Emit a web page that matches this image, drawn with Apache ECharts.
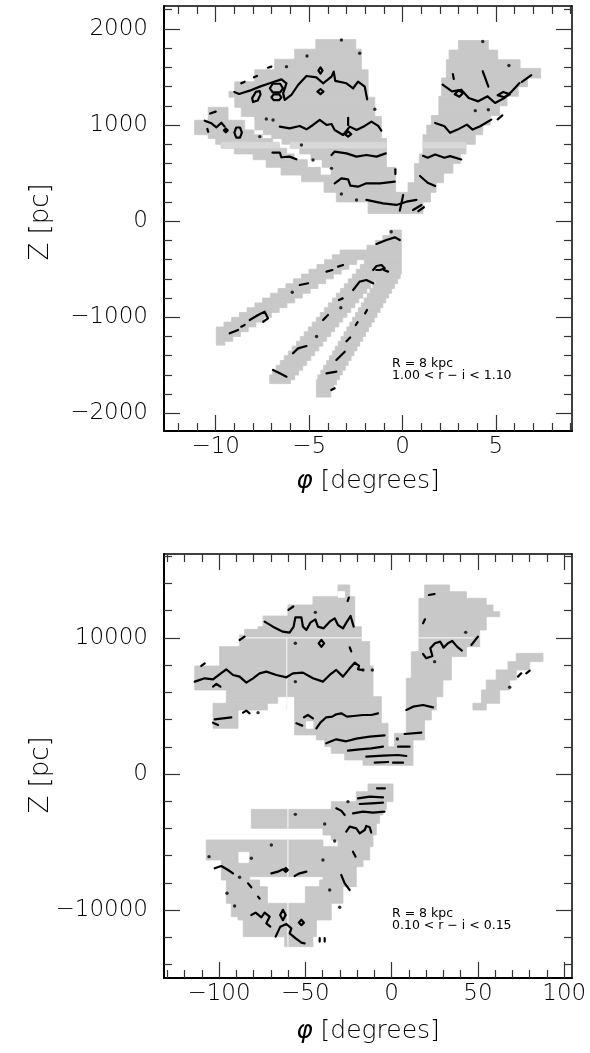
<!DOCTYPE html>
<html>
<head>
<meta charset="utf-8">
<script src="https://cdn.jsdelivr.net/npm/echarts@6/dist/echarts.min.js"></script>
<style>
html,body{margin:0;padding:0;background:#fff;}
#chart{width:590px;height:1053px;}
</style>
</head>
<body>
<div id="chart"></div>
<script>
// ---- axis ranges and ticks ----
const topRangeX = [-12.77, 9.08];
const topRangeZ = [-2183, 2239];
const botRangeX = [-131.9, 104.5];
const botRangeZ = [-14978, 16153];

const topMajorX = [-10, -5, 0, 5];
const topMinorX = [-12, -11, -9, -8, -7, -6, -4, -3, -2, -1, 1, 2, 3, 4, 6, 7, 8, 9];
const topMajorZ = [-2000, -1000, 0, 1000, 2000];
const topMinorZ = [-1800, -1600, -1400, -1200, -800, -600, -400, -200, 200, 400, 600, 800, 1200, 1400, 1600, 1800, 2200];
const botMajorX = [-100, -50, 0, 50, 100];
const botMinorX = [-130, -120, -110, -90, -80, -70, -60, -40, -30, -20, -10, 10, 20, 30, 40, 60, 70, 80, 90];
const botMajorZ = [-10000, 0, 10000];
const botMinorZ = [-14000, -12000, -8000, -6000, -4000, -2000, 2000, 4000, 6000, 8000, 12000, 14000, 16000];

// ---- covered cells: [zLow, zHigh, phiLeft, phiRight] ----
const topCells = [
  // northern fan and central wedge
  [1790, 1890, -4.64, -2.50], [1685, 1790, -5.77, -2.20], [1575, 1685, -6.84, -2.20],
  [1450, 1575, -7.91, -1.84], [1350, 1450, -8.98, -1.84], [1290, 1350, -9.29, -1.84],
  [1185, 1290, -8.98, -1.48], [1090, 1185, -8.63, -1.48], [1050, 1090, -7.91, -1.13],
  [950, 1050, -7.9, -1.13], [900, 950, -7.45, -1.13], [860, 900, -7.0, -1.13],
  [800, 860, -6.45, -0.86], [760, 800, -6.0, -0.86], [700, 760, -5.5, -0.86],
  [640, 700, -4.9, -0.86], [560, 640, -4.3, -0.86], [480, 560, -3.81, -0.36],
  [410, 480, -5.4, -0.36], [300, 410, -4.2, -0.36], [200, 300, -3.54, 1.5],
  [80, 200, -1.84, 1.10],
  // western strip
  [1050, 1185, -10.4, -9.34], [950, 1050, -11.13, -8.45], [900, 950, -11.13, -7.95],
  [860, 900, -10.4, -7.5], [800, 860, -10.0, -6.95], [760, 800, -9.7, -6.6],
  [700, 760, -9.0, -6.2], [640, 700, -8.0, -5.8], [560, 640, -7.3, -5.1],
  [480, 560, -6.5, -4.4],
  // eastern wedge
  [1780, 1880, 3.0, 4.6], [1680, 1780, 2.5, 5.1], [1590, 1680, 2.35, 6.3],
  [1490, 1590, 2.35, 7.4], [1400, 1490, 2.1, 6.7], [1300, 1400, 2.1, 6.2],
  [1200, 1300, 1.95, 5.6], [1100, 1200, 1.95, 5.2], [1000, 1100, 1.55, 4.7],
  [900, 1000, 1.3, 4.3], [800, 900, 1.1, 3.9], [700, 800, 1.1, 3.4],
  [600, 700, 0.9, 3.1], [500, 600, 0.65, 2.7], [400, 500, 0.65, 2.2],
  [300, 400, 0.3, 1.8],
  // southern tip
  [-150, -92, -0.68, -0.06], [-200, -150, -1.05, -0.06], [-250, -200, -1.45, -0.06],
  [-300, -250, -1.90, -0.06], [-350, -300, -3.34, -0.06], [-400, -350, -3.75, -0.06],
  // southern strip 1
  [-450, -400, -4.17, -2.45], [-500, -450, -4.58, -2.87], [-550, -500, -5.00, -3.28],
  [-600, -550, -5.41, -3.70], [-650, -600, -5.83, -4.11], [-700, -650, -6.24, -4.53],
  [-750, -700, -6.66, -4.94], [-800, -750, -7.07, -5.36], [-850, -800, -7.49, -5.77],
  [-900, -850, -7.90, -6.19], [-950, -900, -8.32, -6.60], [-1000, -950, -8.73, -7.02],
  [-1050, -1000, -9.15, -7.43], [-1100, -1050, -9.56, -7.85], [-1150, -1100, -9.97, -8.26],
  [-1200, -1150, -9.97, -8.68], [-1250, -1200, -9.97, -9.09], [-1290, -1250, -9.97, -9.51],
  // southern strip 2
  [-450, -400, -2.04, -0.06], [-500, -450, -2.25, -0.06], [-550, -500, -2.47, -0.06],
  [-600, -550, -2.68, -0.12], [-650, -600, -2.90, -1.48], [-700, -650, -3.11, -1.70],
  [-750, -700, -3.32, -1.91], [-800, -750, -3.54, -2.12], [-850, -800, -3.75, -2.34],
  [-900, -850, -3.97, -2.55], [-950, -900, -4.18, -2.77], [-1000, -950, -4.40, -2.98],
  [-1050, -1000, -4.61, -3.20], [-1100, -1050, -4.83, -3.41], [-1150, -1100, -5.04, -3.63],
  [-1200, -1150, -5.26, -3.84], [-1250, -1200, -5.47, -4.06], [-1300, -1250, -5.68, -4.27],
  [-1350, -1300, -5.90, -4.48], [-1400, -1350, -6.11, -4.70], [-1450, -1400, -6.33, -4.91],
  [-1500, -1450, -6.54, -5.13], [-1550, -1500, -6.76, -5.34], [-1600, -1550, -6.97, -5.56],
  [-1650, -1600, -7.11, -5.77], [-1690, -1650, -7.11, -5.99],
  // southern strip 3
  [-650, -600, -1.43, -0.27], [-700, -650, -1.58, -0.43], [-750, -700, -1.74, -0.58],
  [-800, -750, -1.89, -0.74], [-850, -800, -2.05, -0.89], [-900, -850, -2.20, -1.05],
  [-950, -900, -2.36, -1.20], [-1000, -950, -2.51, -1.36], [-1050, -1000, -2.67, -1.51],
  [-1100, -1050, -2.82, -1.67], [-1150, -1100, -2.98, -1.82], [-1200, -1150, -3.13, -1.98],
  [-1250, -1200, -3.29, -2.13], [-1300, -1250, -3.44, -2.29], [-1350, -1300, -3.60, -2.44],
  [-1400, -1350, -3.75, -2.60], [-1450, -1400, -3.91, -2.75], [-1500, -1450, -4.06, -2.91],
  [-1550, -1500, -4.22, -3.06], [-1600, -1550, -4.37, -3.22], [-1650, -1600, -4.53, -3.37],
  [-1700, -1650, -4.61, -3.53], [-1750, -1700, -4.61, -3.68], [-1830, -1750, -4.61, -3.84]
];
const topLightCells = [
  [762, 822, -9.7, -6.6], [762, 822, -6.0, -0.86], [762, 822, 1.1, 3.4]
];

const botCells = [
  // northern left region
  [13020, 13880, -31.1, -24.3], [12410, 13020, -45.6, -21.4], [11600, 12410, -60.1, -21.4],
  [10820, 11600, -74.5, -21.4], [10620, 10820, -77.4, -17.6], [10200, 10620, -85.2, -17.6],
  [9720, 10200, -88.1, -17.6], [9350, 9720, -88.1, -12.7], [7930, 9350, -99.7, -12.7],
  [6170, 7930, -114.1, -10.8], [5680, 6170, -95.8, -10.8],
  [5190, 5680, -95.8, -66.0], [5190, 5680, -56.2, -6.0],
  [4700, 5190, -103.5, -72.0], [4700, 5190, -56.2, -6.0],
  [3355, 4700, -103.5, -89.0], [3720, 4700, -56.2, -6.0],
  [2870, 3720, -56.2, -2.1], [2500, 2870, -43.6, -2.1], [2010, 2500, -38.8, -2.1],
  [1520, 2010, -35.0, 12.4], [1030, 1520, -27.2, 12.4], [640, 1030, -16.6, 12.4],
  // northern right wedge
  [13390, 13880, 19.1, 33.6], [12900, 13390, 19.1, 43.3], [12410, 12900, 15.8, 54.8],
  [11920, 12410, 15.8, 58.7], [11550, 11920, 15.8, 62.6], [10570, 11550, 15.8, 54.8],
  [9350, 10570, 15.8, 51.0], [8980, 9350, 15.8, 43.3], [8620, 8980, 11.4, 43.3],
  [7030, 8620, 11.4, 34.6], [6900, 7030, 8.5, 34.6], [5680, 6900, 8.5, 29.7],
  [4700, 5680, 8.5, 25.9], [3970, 4700, 8.5, 23.0], [2990, 3970, 8.5, 19.1],
  [2500, 2990, 1.7, 19.1], [2010, 2500, 1.7, 12.4],
  // isolated eastern strip
  [4700, 5190, 47.1, 54.8], [5190, 6170, 52.0, 62.6], [6170, 6900, 54.8, 68.4],
  [6900, 7640, 60.6, 72.2], [7640, 8250, 67.4, 80.0], [8250, 8860, 72.2, 87.7],
  // southern region
  [-1300, -734, -13.7, 0.8], [-2030, -1300, -20.5, 0.8], [-2594, -2030, -35.0, -3.1],
  [-3010, -2594, -81.3, -5.0], [-3622, -3010, -81.3, -7.0], [-3989, -3622, -81.3, -8.9],
  [-4478, -3989, -39.8, -8.9], [-4845, -4478, -35.0, -10.8],
  [-5335, -4845, -107.4, -39.8], [-5335, -4845, -31.1, -10.8],
  [-5702, -5335, -107.4, -12.7],
  [-6313, -5702, -107.4, -89.0], [-6313, -5702, -82.3, -12.7],
  [-6558, -6313, -98.7, -89.0], [-6558, -6313, -82.3, -16.6],
  [-6803, -6558, -98.7, -16.6], [-7537, -6803, -98.7, -20.5],
  [-7782, -7537, -98.7, -82.3], [-7782, -7537, -39.8, -20.5],
  [-8271, -7782, -95.8, -76.5], [-8271, -7782, -41.7, -20.5],
  [-9494, -8271, -95.8, -72.0], [-9494, -8271, -50.0, -28.2],
  [-10473, -9494, -92.9, -35.0], [-10718, -10473, -89.0, -35.0],
  [-11941, -10718, -86.0, -43.6], [-12676, -11941, -62.0, -45.6]
];
// uncovered single cells inside the covered area
const botHoles = [
  [12970, 13390, -31.1, -27.2], [3355, 3845, -49.4, -45.6]
];

// ---- density contours: lists of [phi, Z] ----
const topContours = [
  [[-9.0, 1345], [-8.75, 1324], [-8.18, 1358], [-7.64, 1400], [-7.11, 1435], [-6.48, 1476], [-6.21, 1435], [-6.39, 1330], [-6.3, 1261], [-5.95, 1313], [-5.59, 1417], [-5.14, 1511], [-4.61, 1497], [-4.25, 1435], [-3.80, 1504], [-3.68, 1556], [-3.6, 1460], [-3.0, 1435], [-2.64, 1383], [-2.38, 1452], [-2.02, 1400], [-1.89, 1268]],
  [[-7.1, 1383], [-6.95, 1430], [-6.55, 1430], [-6.4, 1383], [-6.55, 1340], [-6.95, 1340], [-7.1, 1383]],
  [[-7.02, 1289], [-6.9, 1320], [-6.6, 1320], [-6.48, 1289], [-6.6, 1260], [-6.9, 1260], [-7.02, 1289]],
  [[-8.0, 1240], [-8.05, 1280], [-7.85, 1345], [-7.65, 1355], [-7.6, 1320], [-7.75, 1255], [-8.0, 1240]],
  [[-4.5, 1566], [-4.39, 1600], [-4.28, 1566], [-4.39, 1535], [-4.5, 1566]],
  [[-4.55, 1348], [-4.39, 1375], [-4.23, 1348], [-4.39, 1322], [-4.55, 1348]],
  [[-7.2, 1597], [-7.02, 1608]], [[-7.95, 1497], [-7.79, 1511]], [[-8.63, 1435], [-8.45, 1452]],
  [[-6.57, 984], [-6.04, 966], [-5.50, 991], [-5.14, 956], [-4.79, 1001], [-4.43, 1053], [-4.07, 1001], [-3.80, 1011], [-3.63, 949], [-3.18, 897], [-2.82, 984], [-2.46, 949], [-2.02, 991], [-1.66, 1036], [-1.30, 991], [-1.13, 942]],
  [[-3.08, 905], [-2.91, 935], [-2.74, 905], [-2.91, 880], [-3.08, 905]],
  [[-2.91, 1075], [-2.91, 1000]],
  [[-10.59, 1046], [-10.23, 1018], [-9.96, 977], [-9.70, 1025], [-9.52, 984]],
  [[-9.56, 945], [-9.46, 965], [-9.36, 945], [-9.46, 925], [-9.56, 945]],
  [[-9.0, 921], [-8.9, 975], [-8.7, 975], [-8.6, 921], [-8.7, 870], [-8.9, 870], [-9.0, 921]],
  [[-10.3, 1120], [-10.0, 1140]], [[-10.45, 960], [-10.4, 930]],
  [[-3.80, 689], [-3.63, 724], [-3.0, 706], [-2.46, 672], [-1.93, 689], [-1.39, 672], [-0.89, 706]],
  [[-6.96, 713], [-6.57, 713], [-6.48, 665], [-6.04, 672], [-5.68, 644]],
  [[-3.63, 394], [-3.27, 446], [-2.91, 436], [-2.79, 370], [-2.38, 359], [-1.93, 394], [-1.21, 394], [-0.41, 411]],
  [[-0.38, 540], [-0.38, 490]],
  [[-1.93, 221], [-1.04, 186], [-0.32, 169], [0.21, 203], [0.75, 221]],
  [[0.04, 273], [-0.14, 110]], [[0.57, 116], [1.02, 168]], [[0.85, 105], [1.15, 145]],
  // eastern wedge
  [[2.15, 1420], [2.65, 1351], [3.15, 1368], [3.55, 1282], [4.06, 1247], [4.56, 1299], [4.96, 1230], [5.46, 1282], [5.86, 1351], [6.27, 1437]],
  [[2.8, 1320], [3.0, 1360], [3.25, 1335], [3.05, 1295], [2.8, 1320]],
  [[5.1, 1310], [5.4, 1345], [5.75, 1320], [5.45, 1290], [5.1, 1310]],
  [[4.3, 1560], [4.45, 1480], [4.6, 1400]],
  [[1.75, 1022], [2.25, 988], [2.55, 919], [2.95, 953], [3.45, 1005], [3.76, 953], [4.16, 988], [4.76, 1057]],
  [[1.1, 680], [1.35, 660], [1.75, 694], [2.25, 660], [2.55, 677], [3.15, 642]],
  [[0.94, 470], [1.35, 400], [1.75, 366]],
  [[2.7, 1530], [2.75, 1480]], [[6.4, 1450], [6.9, 1520]], [[5.1, 1060], [5.35, 1100]],
  // southern strips
  [[-1.39, -237], [-0.86, -196], [-0.41, -168], [-0.14, -196]],
  [[-1.57, -508], [-1.39, -466], [-1.12, -456], [-0.95, -490], [-1.2, -508], [-1.4, -508]],
  [[-1.0, -508], [-0.77, -525]],
  [[-2.64, -716], [-2.29, -629], [-1.93, -612], [-1.57, -646]],
  [[-4.25, -1028], [-3.99, -976]], [[-3.4, -820], [-3.2, -803]],
  [[-5.50, -664], [-5.05, -646]], [[-4.07, -525], [-3.75, -508]], [[-3.45, -473], [-3.18, -456]],
  [[-8.18, -1028], [-7.73, -976], [-7.38, -941], [-7.2, -1011], [-7.46, -1046]],
  [[-9.25, -1167], [-8.8, -1132]], [[-8.63, -1098], [-8.45, -1080]],
  [[-5.86, -1375], [-5.59, -1323], [-5.14, -1299]],
  [[-6.93, -1548], [-6.57, -1583], [-6.21, -1618]],
  [[-3.54, -1444], [-3.09, -1358]], [[-4.07, -1583], [-3.54, -1566]],
  [[-3.81, -1757], [-3.63, -1739]], [[-2.0, -959], [-1.9, -924]],
  [[-2.5, -1080], [-2.4, -1050]], [[-3.0, -1250], [-2.8, -1210]]
];
const topDots = [
  [-3.27, 1885], [-2.29, 1747], [-5.11, 1719], [-6.21, 1608], [-1.48, 1164], [-7.29, 1063],
  [-6.93, 1053], [-7.64, 880], [-5.41, 793], [-4.79, 637], [-3.80, 550], [-3.27, 283],
  [-2.46, 221], [4.3, 1870], [5.7, 1620], [3.9, 1150], [4.6, 1160], [-0.6, -110],
  [-5.9, -740], [-3.3, -900], [-4.6, -1200]
];

const botContours = [
  [[-114.1, 6781], [-108.3, 7025], [-103.5, 6952], [-99.7, 7319], [-95.8, 7686], [-91.9, 7270], [-88.1, 7148], [-84.2, 6707], [-80.3, 7025], [-76.5, 7392], [-72.6, 7515], [-66.8, 7270], [-61.0, 7099], [-57.2, 7392], [-51.4, 7441], [-45.6, 7025], [-39.8, 6781], [-35.9, 7270], [-32.1, 7637], [-28.2, 7148], [-24.3, 7759], [-21.4, 8175], [-18.9, 7931], [-19.5, 7686], [-16.6, 7637]],
  [[-103.5, 6414], [-101.5, 6610], [-99.2, 6414]],
  [[-73.6, 11185], [-68.8, 10818], [-63.0, 10451], [-59.1, 10378], [-56.8, 10818], [-55.8, 11503], [-52.3, 11503], [-51.4, 10818], [-49.4, 10574], [-47.1, 11112], [-44.2, 11357], [-42.7, 10818], [-39.4, 10696], [-35.9, 11185], [-33.0, 11430], [-31.1, 10941], [-28.2, 10696], [-25.9, 11185], [-23.8, 11601], [-22.0, 10818]],
  [[-42.3, 9595], [-40.7, 9850], [-39.1, 9595], [-40.7, 9340], [-42.3, 9595]],
  [[-59.8, 12050], [-57.0, 12300]], [[-110.3, 7931], [-108.3, 8127]], [[-88.1, 9840], [-85.2, 10084]],
  [[-24.3, 9300], [-23.4, 9000]], [[-25.5, 12700], [-24.8, 12950]],
  [[-43.6, 3355], [-41.3, 3771], [-37.9, 4163], [-34.4, 4211], [-32.1, 4383], [-29.2, 4456], [-25.9, 4211], [-22.0, 4260], [-16.6, 4333], [-11.8, 4333], [-7.9, 4456]],
  [[-50.8, 4163], [-48.5, 4333], [-45.6, 4089]],
  [[-55.2, 3722], [-51.8, 3551]],
  [[-102.5, 4016], [-92.9, 4162]], [[-103.5, 3771], [-100.6, 3600]],
  [[-86.1, 4505], [-84.2, 4652], [-82.3, 4456]],
  [[-37.9, 2254], [-32.1, 2547], [-26.3, 2401], [-20.5, 2596], [-12.7, 2743], [-4.1, 2841]],
  [[-25.3, 1715], [-18.5, 1813], [-11.8, 1887], [-5.0, 2009]],
  [[-14.7, 1275], [-5.0, 1348], [3.7, 1397], [8.5, 1324]],
  [[-9.8, 834], [-2.1, 883]], [[0.8, 834], [6.6, 834]],
  [[8.5, 4701], [12.4, 4945], [18.2, 5067], [24.0, 4896]],
  [[7.5, 2939], [17.2, 3037]], [[3.7, 2009], [10.4, 2009]],
  [[18.2, 8812], [20.1, 8493], [23.6, 8665], [22.4, 9228], [25.1, 9595], [28.2, 9717], [30.1, 9277], [32.6, 9595], [35.1, 9766], [37.9, 9350], [40.7, 9057]],
  [[46.2, 9472], [50.0, 10084]],
  [[21.6, 13143], [24.9, 13216]], [[18.2, 11063], [19.3, 11357]],
  [[73.2, 7148], [75.1, 7392]], [[78.0, 7392], [80.0, 7588]],
  // southern region
  [[-8.5, -1052], [-3.9, -1052]],
  [[-19.5, -1786], [-12.7, -1664], [-5.0, -1713]],
  [[-18.5, -2202], [-11.8, -2153], [-5.0, -2104]],
  [[-22.4, -2888], [-16.6, -2765], [-10.8, -2839], [-4.1, -2765]],
  [[-32.1, -2521], [-29.2, -2692], [-27.2, -3010]],
  [[-26.3, -4233], [-24.3, -3866], [-20.5, -3989], [-18.5, -4356], [-15.6, -4111], [-14.7, -3817], [-12.7, -3915], [-11.8, -4307]],
  [[-22.4, -5702], [-20.9, -6069]],
  [[-29.2, -7415], [-27.2, -8027], [-24.3, -8516]],
  [[-102.5, -6925], [-98.7, -6754], [-94.8, -7048], [-91.9, -7292]],
  [[-69.7, -7292], [-65.9, -7170], [-63.0, -6999], [-60.7, -7097]],
  [[-62.5, -7050], [-61.3, -6900], [-60.2, -7050], [-61.3, -7180], [-62.5, -7050]],
  [[-56.2, -7488], [-53.3, -7292], [-49.4, -7170]],
  [[-83.2, -8027], [-81.3, -8320]], [[-77.4, -9005], [-76.5, -9150]],
  [[-81.3, -10351], [-78.8, -10179], [-75.5, -10522], [-73.6, -10179], [-70.7, -10473], [-72.6, -10963], [-70.3, -11207]],
  [[-67.2, -11941], [-64.5, -11207], [-61.0, -11011], [-58.1, -11329], [-59.1, -11696], [-55.6, -12064], [-52.3, -12382], [-50.4, -12431]],
  [[-64.6, -10351], [-63.0, -9971], [-61.4, -10351], [-63.0, -10731], [-64.6, -10351]],
  [[-53.8, -10914], [-52.3, -10700], [-50.8, -10914], [-52.3, -11100], [-53.8, -10914]],
  [[-41.7, -12050], [-41.7, -12300]], [[-38.8, -12050], [-38.8, -12300]]
];
const botDots = [
  [-55.8, 9595], [-44.2, 11870], [-16.6, 7637], [-11.2, 7637], [-55.8, 6781], [-77.4, 4505],
  [42.9, 10402], [24.9, 8249], [3.3, 2572], [68.4, 6365], [-55.8, -2961], [-38.8, -3670],
  [-33.0, -4919], [-25.3, -2031], [-81.3, -6191], [-69.7, -5212], [-105.8, -6069],
  [-39.8, -6313], [-30.1, -9788], [-35.9, -8516], [-88.1, -7586], [-95.4, -8760], [-91.0, -9690]
];

// faint seams inside the covered area: [[phi, Z], [phi, Z]]
const botSeams = [
  [[-88.1, 10000], [-17.6, 10000]], [[15.8, 10000], [47.0, 10000]],
  [[-60.8, 10000], [-60.8, 4700]],
  [[-60.1, -2594], [-60.1, -3989]], [[-60.1, -4845], [-60.1, -7537]], [[-60.1, -9494], [-60.1, -12676]]
];

// ---------------------------------------------------------------
const FONT = 'DejaVu Sans';
const GRAY = '#c8c8c8';
const fmt = v => (v < 0 ? '\u2212' : '') + Math.abs(v);

function axis(g, range, position, ticks, len, lineWidth, labelMargin) {
  return {
    gridIndex: g, type: 'value', min: range[0], max: range[1], position,
    splitLine: { show: false },
    axisLine: { show: lineWidth > 0, onZero: false, lineStyle: { color: '#000', width: lineWidth } },
    axisTick: { show: true, inside: true, length: len, customValues: ticks, lineStyle: { color: '#333', width: 1.2 } },
    axisLabel: labelMargin != null ? {
      show: true, customValues: ticks, formatter: fmt, margin: labelMargin,
      fontFamily: FONT, fontSize: 23, fontWeight: 200, color: '#000'
    } : { show: false }
  };
}

function cellSeries(data, xi, yi, fill, z) {
  return {
    type: 'custom', xAxisIndex: xi, yAxisIndex: yi, data, silent: true, z,
    encode: { x: [2, 3], y: [0, 1] },
    renderItem(params, api) {
      const a = api.coord([api.value(2), api.value(1)]);
      const b = api.coord([api.value(3), api.value(0)]);
      return {
        type: 'rect',
        shape: { x: a[0], y: a[1], width: b[0] - a[0], height: b[1] - a[1] },
        style: { fill, stroke: fill, lineWidth: 0.8 }
      };
    }
  };
}

function lineSeries(list, xi, yi, color, width, z) {
  return {
    type: 'lines', coordinateSystem: 'cartesian2d', xAxisIndex: xi, yAxisIndex: yi,
    polyline: true, silent: true, z,
    lineStyle: { color, width, opacity: 1, cap: 'round', join: 'round' },
    data: list.map(c => ({ coords: c }))
  };
}

function dotSeries(list, xi, yi) {
  return {
    type: 'scatter', xAxisIndex: xi, yAxisIndex: yi, data: list, silent: true, z: 5,
    symbol: 'circle', symbolSize: 3.4, itemStyle: { color: '#000' }
  };
}

function label(x, y, text, size) {
  return { type: 'text', x, y,
    style: { text, fontFamily: FONT, fontSize: size, fill: '#000', align: 'left', verticalAlign: 'middle', textAlign: 'left', textVerticalAlign: 'middle' } };
}

function axisTitle(x, y, text, rotation, size) {
  return { type: 'text', x, y, rotation,
    style: { text, fontFamily: FONT, fontSize: size, fontWeight: 200, fill: '#000', align: 'center', verticalAlign: 'middle', textAlign: 'center', textVerticalAlign: 'middle',
      rich: { p: { fontFamily: FONT, fontSize: size, fontStyle: 'italic', fill: '#000' } } } };
}

const chart = echarts.init(document.getElementById('chart'), null, { renderer: 'canvas' });

chart.setOption({
  animation: false,
  backgroundColor: '#fff',
  grid: [
    { left: 164, top: 6, width: 408, height: 425 },
    { left: 164, top: 554, width: 408, height: 424 }
  ],
  xAxis: [
    axis(0, topRangeX, 'bottom', topMajorX, 16, 2, 5),
    axis(0, topRangeX, 'bottom', topMinorX, 8, 0),
    axis(0, topRangeX, 'top', topMajorX, 16, 1.5),
    axis(0, topRangeX, 'top', topMinorX, 8, 0),
    axis(1, botRangeX, 'bottom', botMajorX, 16, 2, 5),
    axis(1, botRangeX, 'bottom', botMinorX, 8, 0),
    axis(1, botRangeX, 'top', botMajorX, 16, 1.5),
    axis(1, botRangeX, 'top', botMinorX, 8, 0)
  ],
  yAxis: [
    axis(0, topRangeZ, 'left', topMajorZ, 16, 2, 16),
    axis(0, topRangeZ, 'left', topMinorZ, 8, 0),
    axis(0, topRangeZ, 'right', topMajorZ, 16, 1.5),
    axis(0, topRangeZ, 'right', topMinorZ, 8, 0),
    axis(1, botRangeZ, 'left', botMajorZ, 16, 2, 16),
    axis(1, botRangeZ, 'left', botMinorZ, 8, 0),
    axis(1, botRangeZ, 'right', botMajorZ, 16, 1.5),
    axis(1, botRangeZ, 'right', botMinorZ, 8, 0)
  ],
  series: [
    cellSeries(topCells, 0, 0, GRAY, 1),
    cellSeries(topLightCells, 0, 0, '#d8d8d8', 2),
    lineSeries(topContours, 0, 0, '#000', 2.2, 4),
    dotSeries(topDots, 0, 0),
    cellSeries(botCells, 4, 4, GRAY, 1),
    cellSeries(botHoles, 4, 4, '#fff', 2),
    lineSeries(botSeams, 4, 4, '#f2f2f2', 1.2, 3),
    lineSeries(botContours, 4, 4, '#000', 2.2, 4),
    dotSeries(botDots, 4, 4)
  ],
  graphic: [
    axisTitle(41, 222, 'Z [pc]', Math.PI / 2, 26),
    axisTitle(41, 775, 'Z [pc]', Math.PI / 2, 26),
    axisTitle(368, 481, '{p|\u03c6} [degrees]', 0, 25),
    axisTitle(368, 1031, '{p|\u03c6} [degrees]', 0, 25),
    label(392, 364, 'R = 8 kpc', 12.5),
    label(392, 376, '1.00 < r \u2212 i < 1.10', 12.5),
    label(392, 914, 'R = 8 kpc', 12.5),
    label(392, 926, '0.10 < r \u2212 i < 0.15', 12.5)
  ]
});
</script>
</body>
</html>
